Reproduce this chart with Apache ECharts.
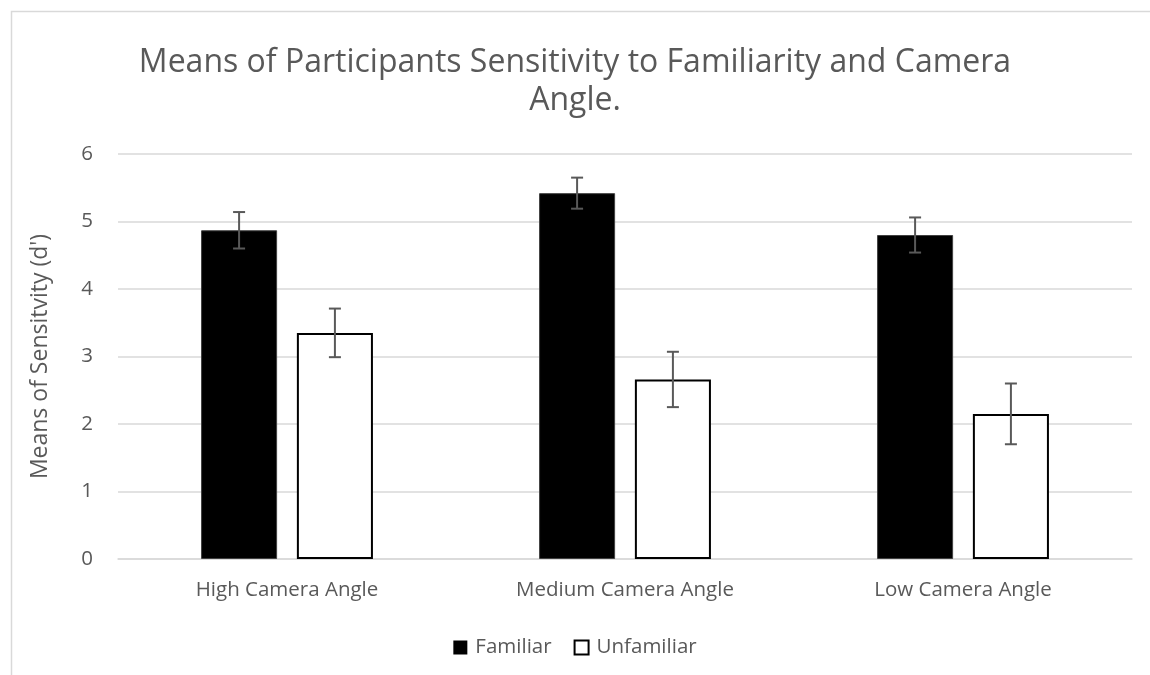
<!DOCTYPE html>
<html>
<head>
<meta charset="utf-8">
<script src="https://cdn.jsdelivr.net/npm/echarts@6/dist/echarts.min.js"></script>
<style>html,body{margin:0;padding:0;background:#fff;}#c{width:1150px;height:675px;}</style>
</head>
<body>
<div id="c"></div>
<script>
const categories = ['High Camera Angle', 'Medium Camera Angle', 'Low Camera Angle'];
const familiar = [4.87, 5.42, 4.80];
const unfamiliar = [3.35, 2.66, 2.15];
const familiarErr = [0.27, 0.23, 0.26];
const unfamiliarErr = [0.36, 0.41, 0.45];
const yTicks = [0, 1, 2, 3, 4, 5, 6];

const BAR_W = 0.225, GAP = 0.26;
function errData(vals, errs, s) {
  return vals.map((v, i) => [i, v - errs[i], v + errs[i], s]);
}
function renderErr(params, api) {
  const i = api.value(0), lo = api.value(1), hi = api.value(2), s = api.value(3);
  const band = api.size([1, 0])[0];
  const bw = band * BAR_W;
  const off = (bw + bw * GAP) / 2 * (s === 0 ? -1 : 1);
  const pLo = api.coord([i, lo]);
  const pHi = api.coord([i, hi]);
  const x = pLo[0] + off;
  const cap = 6;
  const style = { stroke: '#595959', lineWidth: 2 };
  return {
    type: 'group',
    children: [
      { type: 'line', shape: { x1: x, y1: pHi[1], x2: x, y2: pLo[1] }, style },
      { type: 'line', shape: { x1: x - cap, y1: pHi[1], x2: x + cap, y2: pHi[1] }, style },
      { type: 'line', shape: { x1: x - cap, y1: pLo[1], x2: x + cap, y2: pLo[1] }, style }
    ]
  };
}

const chart = echarts.init(document.getElementById('c'));
const font = 'Open Sans';
chart.setOption({
  animation: false,
  backgroundColor: '#fff',
  graphic: [{
    type: 'rect', left: 9, top: 9, silent: true, z: -1,
    shape: { width: 1300, height: 800 },
    style: { fill: 'none', stroke: '#d9d9d9', lineWidth: 1.5 }
  }],
  title: {
    text: 'Means of Participants Sensitivity to Familiarity and Camera\nAngle.',
    left: 'center', top: 39,
    textStyle: { fontFamily: font, fontSize: 32, fontWeight: 'normal', color: '#595959', lineHeight: 38 }
  },
  legend: {
    bottom: 12, left: 'center',
    itemWidth: 14, itemHeight: 14, itemGap: 22,
    textStyle: { fontFamily: font, fontSize: 20.5, color: '#595959', padding: [0, 0, 0, 3] },
    data: [
      { name: 'Familiar', icon: 'rect', itemStyle: { color: '#000', borderColor: '#000', borderWidth: 0 } },
      { name: 'Unfamiliar', icon: 'rect', itemStyle: { color: '#fff', borderColor: '#000', borderWidth: 2 } }
    ]
  },
  grid: { left: 118, right: 18, top: 154, bottom: 116 },
  xAxis: {
    type: 'category', data: categories,
    axisLine: { lineStyle: { color: '#d9d9d9', width: 1.5 } },
    axisTick: { show: false },
    axisLabel: { fontFamily: font, fontSize: 20.5, color: '#595959', margin: 21 }
  },
  yAxis: {
    type: 'value', min: yTicks[0], max: yTicks[yTicks.length - 1], interval: 1,
    name: "Means of Sensitvity (d')", nameLocation: 'middle', nameGap: 66, nameRotate: 90,
    nameTextStyle: { fontFamily: font, fontSize: 23, color: '#595959' },
    axisLine: { show: false }, axisTick: { show: false },
    axisLabel: { fontFamily: font, fontSize: 20.5, color: '#595959', margin: 25 },
    splitLine: { lineStyle: { color: '#d9d9d9', width: 1.5 } }
  },
  series: [
    { name: 'Familiar', type: 'bar', data: familiar, barWidth: (BAR_W * 100) + '%', barGap: (GAP * 100) + '%',
      itemStyle: { color: '#000', borderColor: '#404040', borderWidth: 1 } },
    { name: 'Unfamiliar', type: 'bar', data: unfamiliar, barWidth: (BAR_W * 100) + '%',
      itemStyle: { color: '#fff', borderColor: '#000', borderWidth: 2 } },
    { name: 'errF', type: 'custom', renderItem: renderErr, data: errData(familiar, familiarErr, 0), z: 10,
      encode: { x: 0, y: [1, 2] } },
    { name: 'errU', type: 'custom', renderItem: renderErr, data: errData(unfamiliar, unfamiliarErr, 1), z: 10,
      encode: { x: 0, y: [1, 2] } }
  ]
});
</script>
</body>
</html>
